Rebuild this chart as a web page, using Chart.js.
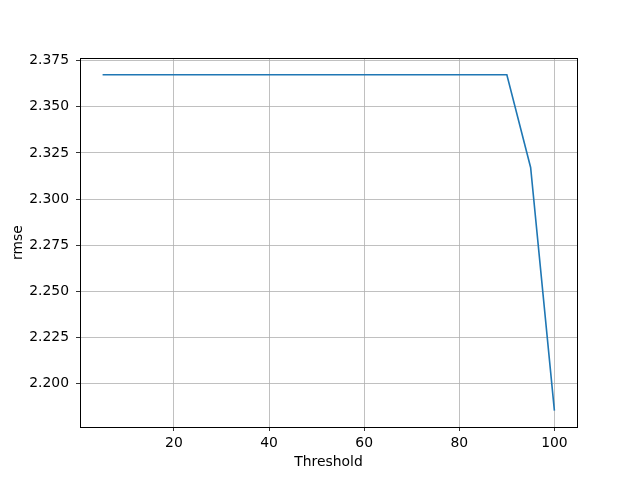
<!DOCTYPE html>
<html>
<head>
<meta charset="utf-8">
<script src="https://cdn.jsdelivr.net/npm/chart.js@4/dist/chart.umd.min.js"></script>
<style>
  html, body { margin: 0; padding: 0; background: #fff; }
  canvas { display: block; }
</style>
</head>
<body>
<canvas id="myChart" width="640" height="480"></canvas>
<script>
// 데이터
const thresholds = [5, 10, 15, 20, 25, 30, 35, 40, 45, 50, 55, 60, 65, 70, 75, 80, 85, 90, 95, 100];
const rmseValues = [2.3674, 2.3674, 2.3674, 2.3674, 2.3674, 2.3674, 2.3674, 2.3674, 2.3674, 2.3674,
                    2.3674, 2.3674, 2.3674, 2.3674, 2.3674, 2.3674, 2.3674, 2.3674, 2.3171, 2.1852];
const xTicks = [20, 40, 60, 80, 100];
const yTicks = [2.200, 2.225, 2.250, 2.275, 2.300, 2.325, 2.350, 2.375];

const font = { family: 'DejaVu Sans', size: 13.9 };

// 축 테두리 (위/오른쪽 포함)
const frame = {
    id: 'frame',
    afterDraw(chart) {
        const { ctx, chartArea: a } = chart;
        ctx.save();
        ctx.strokeStyle = '#000';
        ctx.lineWidth = 1;
        ctx.strokeRect(a.left + 0.5, a.top + 0.5, a.right - a.left, a.bottom - a.top);
        ctx.restore();
    }
};

const ctx = document.getElementById('myChart').getContext('2d');
const myChart = new Chart(ctx, {
    type: 'line',
    data: {
        datasets: [{
            data: thresholds.map((t, i) => ({ x: t, y: rmseValues[i] })),
            borderColor: '#1f77b4',
            borderWidth: 1.6,
            pointRadius: 0,
            tension: 0,
            fill: false
        }]
    },
    options: {
        responsive: false,
        animation: false,
        events: [],
        layout: { padding: { top: 58, right: 63, left: 10, bottom: 9 } },
        plugins: { legend: { display: false }, tooltip: { enabled: false } },
        scales: {
            x: {
                type: 'linear',
                min: 0.25,
                max: 104.75,
                afterBuildTicks: axis => { axis.ticks = xTicks.map(v => ({ value: v })); },
                afterFit: axis => { axis.height = 44; },
                ticks: { color: '#000', font: font, padding: 4, maxRotation: 0 },
                grid: { color: '#b0b0b0', lineWidth: 0.8, tickLength: 4, tickColor: '#000' },
                border: { color: '#000' },
                title: { display: true, text: 'Threshold', color: '#000', font: font, padding: { top: 2, bottom: 0 } }
            },
            y: {
                type: 'linear',
                min: 2.1763,
                max: 2.3765,
                afterBuildTicks: axis => { axis.ticks = yTicks.map(v => ({ value: v })); },
                afterFit: axis => { axis.width = 70; },
                ticks: { color: '#000', font: font, padding: 7, callback: v => v.toFixed(3) },
                grid: { color: '#b0b0b0', lineWidth: 0.8, tickLength: 4, tickColor: '#000' },
                border: { color: '#000' },
                title: { display: true, text: 'rmse', color: '#000', font: font, padding: { top: 0, bottom: 4 } }
            }
        }
    },
    plugins: [frame]
});
</script>
</body>
</html>
